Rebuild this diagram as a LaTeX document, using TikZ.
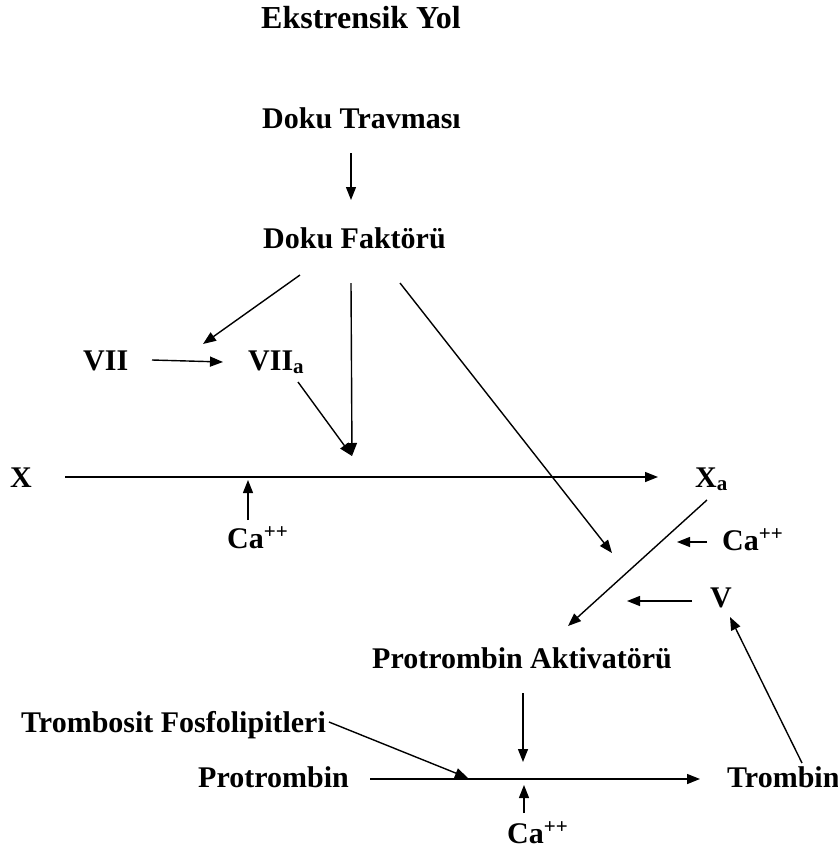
\documentclass[tikz,border=0pt]{standalone}
\usepackage{fontspec}
\setmainfont{Liberation Serif}
\usetikzlibrary{arrows.meta,calc}

\tikzset{
  lbl/.style={anchor=base west, inner sep=0pt, font=\fontsize{30}{35}\selectfont\bfseries},
  ttl/.style={anchor=base west, inner sep=0pt, font=\fontsize{32}{37}\selectfont\bfseries},
  arr/.style={line width=1.4pt, -{Triangle[length=13pt,width=10pt]}},
  ln/.style={line width=1.4pt}
}

\begin{document}
\begin{tikzpicture}[x=1pt,y=-1pt]
\useasboundingbox (0,0) rectangle (838,852);

% labels, placed by their left baseline point
\node[ttl] (title) at (261,28) {Ekstrensik Yol};
\node[lbl] (dt)  at (262,128) {Doku Travması};
\node[lbl] (df)  at (263,248) {Doku Faktörü};
\node[lbl] (v7)  at (83,370)  {VII};
\node[lbl] (v7a) at (248,370) {VII\textsubscript{a}};
\node[lbl] (x)   at (10,487)  {X};
\node[lbl] (xa)  at (695,487) {X\textsubscript{a}};
\node[lbl] (ca1) at (227,548) {Ca\textsuperscript{++}};
\node[lbl] (ca2) at (722,550) {Ca\textsuperscript{++}};
\node[lbl] (v)   at (710,607) {V};
\node[lbl] (pa)  at (372,668) {Protrombin Aktivatörü};
\node[lbl] (tf)  at (21,732)  {Trombosit Fosfolipitleri};
\node[lbl] (pr)  at (198,787) {Protrombin};
\node[lbl] (tr)  at (727,787) {Trombin};
\node[lbl] (ca3) at (507,843) {Ca\textsuperscript{++}};

% meeting points of arrows
\coordinate (j1) at (352,456);
\coordinate (j2) at (612,553);
\coordinate (j3) at (523,762);

% tissue trauma -> tissue factor
\draw[arr] ($(dt.base west)+(89,25)$) -- ($(df.base west)+(88,-48)$);
% tissue factor -> VIIa, VII -> VIIa
\draw[arr] ($(df.base west)+(37,27)$) -- ($(v7a.base west)+(-45,-26)$);
\draw[arr] ($(v7.base west)+(69,-10)$) -- ($(v7a.base west)+(-25,-8)$);
% onto the X -> Xa reaction
\draw[arr] ($(df.base west)+(88,35)$) -- (j1);
\draw[arr] ($(v7a.base west)+(50,12)$) -- (j1);
\draw[arr] ($(x.base west)+(55,-10)$) -- ($(xa.base west)+(-37,-10)$);
\draw[arr] ($(ca1.base west)+(21,-28)$) -- ($(ca1.base west)+(21,-68)$);
% towards the prothrombin activator
\draw[arr] ($(df.base west)+(137,35)$) -- (j2);
\draw[arr] ($(xa.base west)+(12,13)$) -- ($(pa.base west)+(196,-42)$);
\draw[arr] ($(ca2.base west)+(-15,-8)$) -- ($(ca2.base west)+(-45,-8)$);
\draw[arr] ($(v.base west)+(-18,-6)$) -- ($(v.base west)+(-83,-6)$);
\draw[arr] ($(tr.base west)+(75,-24)$) -- ($(v.base west)+(20,10)$);
% prothrombin -> thrombin
\draw[arr] ($(pa.base west)+(151,25)$) -- (j3);
\draw[arr] ($(tf.base west)+(308,-10)$) -- ($(pr.base west)+(270,-9)$);
\draw[arr] ($(pr.base west)+(172,-8)$) -- ($(tr.base west)+(-27,-8)$);
\draw[arr] ($(ca3.base west)+(17,-30)$) -- ($(ca3.base west)+(17,-58)$);
\end{tikzpicture}
\end{document}
